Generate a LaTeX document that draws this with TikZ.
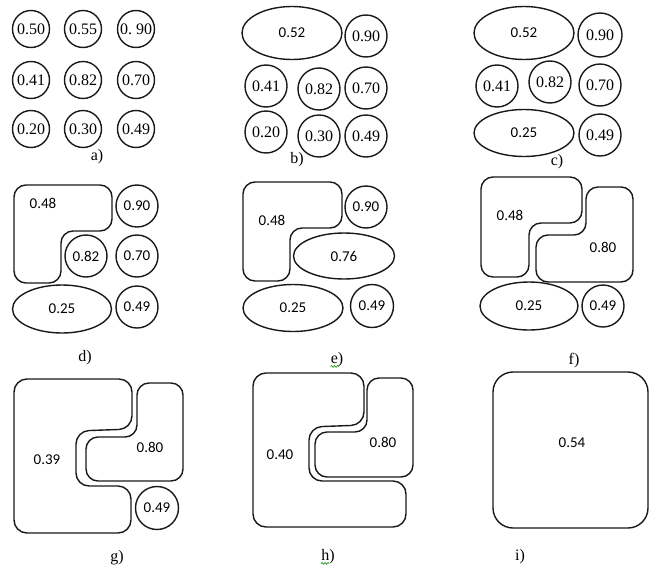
\documentclass[tikz,border=0pt]{standalone}
\usepackage{fontspec}
\usetikzlibrary{shapes.geometric,decorations.pathmorphing}
\newfontfamily\sernum{Liberation Serif}
\newfontfamily\sannum{Carlito}
\begin{document}
\begin{tikzpicture}[x=1pt,y=-1pt,
  outline/.style={draw=black!90,line width=1.4pt},
  circA/.style={outline,circle,minimum size=37pt,inner sep=0pt,font=\sernum\fontsize{16}{16}\selectfont},
  circB/.style={outline,circle,minimum size=42pt,inner sep=0pt,font=\sernum\fontsize{16}{16}\selectfont},
  circS/.style={outline,circle,minimum size=42pt,inner sep=0pt,font=\sannum\fontsize{15}{15}\selectfont},
  ell/.style={outline,ellipse,inner sep=0pt,font=\sannum\fontsize{15}{15}\selectfont},
  region/.style={outline,rounded corners=11pt},
  val/.style={inner sep=0pt,font=\sannum\fontsize{15}{15}\selectfont},
  caption/.style={inner sep=0pt,font=\sernum\fontsize{16}{16}\selectfont},
  squiggle/.style={draw=green!55!black,line width=0.6pt,decorate,decoration={snake,amplitude=0.9pt,segment length=3pt}}]
\useasboundingbox (0,0) rectangle (650,565);

% ---- a) initial grid of pixels
\node[circA] (a1) at (31,29) {0.50};
\node[circA] (a2) at (83,29) {0.55};
\node[circA] (a3) at (136,29) {0.\ 90};
\node[circA] (a4) at (31,80) {0.41};
\node[circA] (a5) at (83,80) {0.82};
\node[circA] (a6) at (136,80) {0.70};
\node[circA] (a7) at (31,129) {0.20};
\node[circA] (a8) at (83,129) {0.30};
\node[circA] (a9) at (136,129) {0.49};
\node[caption] (capa) at (97,157) {a)};

% ---- b)
\node[ell,minimum width=100pt,minimum height=53pt] (b1) at (292,33) {0.52};
\node[circB] (b3) at (366,36) {0.90};
\node[circB] (b4) at (266,86) {0.41};
\node[circB] (b5) at (319,89) {0.82};
\node[circB] (b6) at (366,88) {0.70};
\node[circB] (b7) at (266,132) {0.20};
\node[circB] (b8) at (319,136) {0.30};
\node[circB] (b9) at (366,136) {0.49};
\node[caption] (capb) at (297,160) {b)};

% ---- c)
\node[ell,minimum width=100pt,minimum height=53pt] (c1) at (524,33) {0.52};
\node[circB,minimum size=44pt] (c3) at (600,35) {0.90};
\node[circB] (c4) at (497,86) {0.41};
\node[circB] (c5) at (550,82) {0.82};
\node[circB] (c6) at (600,85) {0.70};
\node[ell,minimum width=100pt,minimum height=47pt] (c7) at (524,133) {0.25};
\node[circB] (c9) at (600,135) {0.49};
\node[caption] (capc) at (557,162) {c)};

% ---- d)
\draw[region,rounded corners=12pt] (14,185) -- (112,185) -- (112,231) -- (61,231) -- (61,283) -- (14,283) -- cycle;
\node[val] (d1) at (43,203) {0.48};
\node[circS] (d3) at (137,206) {0.90};
\node[circS] (d5) at (86,256) {0.82};
\node[circS] (d6) at (137,256) {0.70};
\node[ell,minimum width=99pt,minimum height=48pt] (d7) at (62,309) {0.25};
\node[circS] (d9) at (137,307) {0.49};
\node[caption] (capd) at (85,358) {d)};

% ---- e)
\draw[region,rounded corners=12pt] (243,182) -- (342,182) -- (342,228) -- (290,228) -- (290,281) -- (243,281) -- cycle;
\node[val] (e1) at (272,220) {0.48};
\node[circS] (e3) at (366,207) {0.90};
\node[ell,minimum width=101pt,minimum height=46pt] (e5) at (344,256) {0.76};
\node[ell,minimum width=100pt,minimum height=47pt] (e7) at (293,308) {0.25};
\node[circS,minimum size=43pt] (e9) at (372,306) {0.49};
\node[caption] (cape) at (337,360) {e)};
\draw[squiggle] (cape.south west) ++(0,-1) -- ++(8,0);

% ---- f)
\draw[region,rounded corners=12pt] (481,177) -- (582,177) -- (582,223) -- (529,223) -- (529,277) -- (481,277) -- cycle;
\node[val] (f1) at (510,215) {0.48};
\draw[region,rounded corners=12pt] (586,187) -- (633,187) -- (633,282) -- (536,282) -- (536,235) -- (586,235) -- cycle;
\node[val] (f5) at (603,247) {0.80};
\node[ell,minimum width=98pt,minimum height=48pt] (f7) at (529,306) {0.25};
\node[circS] (f9) at (603,306) {0.49};
\node[caption] (capf) at (574,361) {f)};

% ---- g)
\draw[region,rounded corners=13pt] (14,379) -- (132,379) -- (132,429) -- (76,431) -- (76,486) -- (131,486) -- (131,533) -- (14,533) -- cycle;
\node[val] (g1) at (47,460) {0.39};
\draw[region,rounded corners=12pt] (137,383) -- (183,383) -- (183,481) -- (86,481) -- (86,437) -- (137,437) -- cycle;
\node[val] (g5) at (150,447) {0.80};
\node[circS,minimum size=43pt] (g9) at (157,508) {0.49};
\node[caption] (capg) at (117,558) {g)};

% ---- h)
\draw[region,rounded corners=13pt] (253,373) -- (364,373) -- (364,425) -- (309,427) -- (309,481) -- (406,481) -- (406,527) -- (253,527) -- cycle;
\node[val] (h1) at (280,455) {0.40};
\draw[region,rounded corners=12pt] (367,378) -- (413,378) -- (413,477) -- (315,477) -- (315,432) -- (367,432) -- cycle;
\node[val] (h5) at (383,442) {0.80};
\node[caption] (caph) at (328,557) {h)};
\draw[squiggle] (caph.south west) ++(0,-1) -- ++(8,0);

% ---- i)
\draw[outline,rounded corners=20pt] (493,372) rectangle (648,528);
\node[val] (i1) at (572,443) {0.54};
\node[caption] (capi) at (520,557) {i)};
\end{tikzpicture}
\end{document}
